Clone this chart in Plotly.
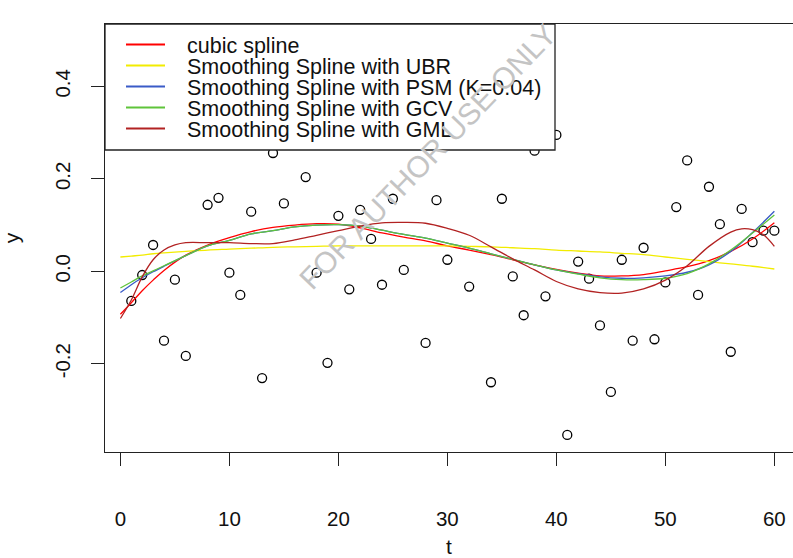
import plotly.graph_objects as go

# Observed data
t_obs = [1, 2, 3, 4, 5, 6, 8, 9, 10, 11, 12, 13, 14, 15, 17, 18, 19, 20,
         21, 22, 23, 24, 25, 26, 28, 29, 30, 32, 34, 35, 36, 37, 38, 39, 40,
         41, 42, 43, 44, 45, 46, 47, 48, 49, 50, 51, 52, 53, 54, 55, 56, 57,
         58, 59, 60]
y_obs = [-0.064, -0.008, 0.057, -0.150, -0.018, -0.183, 0.144, 0.159, -0.003,
         -0.051, 0.129, -0.231, 0.256, 0.147, 0.204, -0.003, -0.198, 0.120,
         -0.039, 0.133, 0.070, -0.029, 0.157, 0.003, -0.155, 0.154, 0.025,
         -0.033, -0.240, 0.157, -0.011, -0.095, 0.261, -0.054, 0.295,
         -0.354, 0.021, -0.016, -0.117, -0.261, 0.025, -0.150, 0.051, -0.147,
         -0.024, 0.139, 0.240, -0.051, 0.183, 0.102, -0.174, 0.135,
         0.063, 0.088, 0.088]

# Fitted curves evaluated on a grid of t
t_fit = [0, 1, 2, 3, 4, 6, 8, 10, 12, 14, 16, 18, 20, 22, 24, 26, 28, 30,
         32, 34, 36, 38, 40, 42, 44, 46, 48, 50, 52, 54, 56, 58, 60]
cubic = [-0.093, -0.068, -0.042, -0.019, 0.002, 0.035, 0.057, 0.073, 0.086,
         0.095, 0.100, 0.103, 0.102, 0.094, 0.083, 0.074, 0.066, 0.055,
         0.046, 0.036, 0.025, 0.014, 0.004, -0.004, -0.010, -0.010, -0.007,
         0.001, 0.010, 0.023, 0.043, 0.070, 0.105]
ubr = [0.031, 0.033, 0.035, 0.038, 0.040, 0.043, 0.046, 0.048, 0.050, 0.052,
       0.053, 0.054, 0.055, 0.055, 0.055, 0.055, 0.055, 0.055, 0.054, 0.053,
       0.051, 0.049, 0.046, 0.044, 0.042, 0.039, 0.036, 0.031, 0.026, 0.021,
       0.016, 0.011, 0.005]
psm = [-0.046, -0.029, -0.014, -0.001, 0.011, 0.034, 0.055, 0.067, 0.081,
       0.088, 0.096, 0.100, 0.101, 0.098, 0.089, 0.080, 0.072, 0.061, 0.050,
       0.038, 0.026, 0.014, 0.003, -0.005, -0.012, -0.015, -0.014, -0.010,
       -0.002, 0.014, 0.043, 0.084, 0.130]
gcv = [-0.036, -0.023, -0.010, 0.001, 0.012, 0.034, 0.055, 0.067, 0.081,
       0.088, 0.096, 0.100, 0.101, 0.098, 0.089, 0.080, 0.072, 0.061, 0.050,
       0.038, 0.026, 0.014, 0.003, -0.006, -0.014, -0.018, -0.018, -0.015,
       -0.005, 0.016, 0.046, 0.083, 0.122]

t_gml = [0, 1, 2, 3, 4, 5, 6, 8, 10, 12, 14, 16, 18, 20, 22, 24, 26, 28, 30,
         32, 34, 36, 38, 40, 42, 44, 46, 48, 50, 52, 54, 56, 57, 58, 59, 60]
gml = [-0.102, -0.062, -0.012, 0.025, 0.046, 0.057, 0.062, 0.062, 0.062,
       0.060, 0.060, 0.068, 0.078, 0.088, 0.098, 0.105, 0.106, 0.104, 0.093,
       0.078, 0.053, 0.027, 0.003, -0.022, -0.038, -0.046, -0.047, -0.038,
       -0.019, 0.012, 0.054, 0.085, 0.092, 0.090, 0.079, 0.054]

legend_labels = ["cubic spline", "Smoothing Spline with UBR",
                 "Smoothing Spline with PSM (K=0.04)",
                 "Smoothing Spline with GCV", "Smoothing Spline with GML"]
colors = ["#FF0000", "#F2EC00", "#3A5BC7", "#5FC43A", "#B22222"]

y_ticks = [-0.2, 0.0, 0.2, 0.4]
y_tick_text = ["-0.2", "0.0", "0.2", "0.4"]
x_ticks = [0, 10, 20, 30, 40, 50, 60]

FONT = "Liberation Sans, Arial, sans-serif"
INK = "#222222"

fig = go.Figure()
fig.add_trace(go.Scatter(
    x=t_obs, y=y_obs, mode="markers", showlegend=False,
    marker=dict(symbol="circle-open", size=9, color="black",
                line=dict(width=1.3, color="black"))))

curves = [(t_fit, cubic), (t_fit, ubr), (t_fit, psm), (t_fit, gcv), (t_gml, gml)]
for (tx, ty), name, col in zip(curves, legend_labels, colors):
    fig.add_trace(go.Scatter(
        x=tx, y=ty, mode="lines", name=name, showlegend=False,
        line=dict(color=col, width=1.3, shape="spline", smoothing=1.0)))

# Legend box drawn in paper coordinates
W, H = 793, 558
ml, mt, mb = 105, 24, 106
pw, ph = W - ml, H - mt - mb


def px_to_paper_x(px):
    return (px - ml) / pw


def py_to_paper_y(py):
    return (H - mb - py) / ph


shapes = [dict(type="rect", xref="paper", yref="paper",
               x0=0, x1=px_to_paper_x(555), y0=py_to_paper_y(150), y1=1,
               fillcolor="white", line=dict(color=INK, width=1.3),
               layer="above")]
annotations = []
row_y = [44.5, 65.5, 86.5, 107.5, 128.5]
for ry, name, col in zip(row_y, legend_labels, colors):
    shapes.append(dict(type="line", xref="paper", yref="paper",
                       x0=px_to_paper_x(126), x1=px_to_paper_x(165),
                       y0=py_to_paper_y(ry), y1=py_to_paper_y(ry),
                       line=dict(color=col, width=2.2), layer="above"))
    annotations.append(dict(xref="paper", yref="paper",
                            x=px_to_paper_x(185), y=py_to_paper_y(ry + 1.5),
                            xanchor="left", yanchor="middle", showarrow=False,
                            text=name, font=dict(family=FONT, size=21.5,
                                                 color="#111111")))

annotations.append(dict(xref="paper", yref="paper",
                        x=px_to_paper_x(428), y=py_to_paper_y(157),
                        xanchor="center", yanchor="middle", showarrow=False,
                        text="FOR AUTHOR USE ONLY", textangle=-46,
                        font=dict(family=FONT, size=30, color="#C4C4C4")))

fig.update_layout(
    width=W, height=H,
    margin=dict(l=ml, r=0, t=mt, b=mb, pad=0),
    paper_bgcolor="white", plot_bgcolor="white",
    font=dict(family=FONT, size=20, color="#111111"),
    shapes=shapes, annotations=annotations,
    showlegend=False,
)
fig.update_xaxes(
    range=[-1.413, 61.71], tickvals=x_ticks, ticks="outside", ticklen=13,
    tickwidth=1.3, tickcolor=INK, showline=True, linecolor=INK, linewidth=1.3,
    mirror=True, showgrid=False, zeroline=False, ticklabelstandoff=35,
    tickfont=dict(size=20.5),
    title=dict(text="t", font=dict(size=21), standoff=14))
fig.update_yaxes(
    range=[-0.3909, 0.5351], tickvals=y_ticks, ticktext=y_tick_text,
    ticks="outside", ticklen=13, tickwidth=1.3, tickcolor=INK, showline=True,
    linecolor=INK, linewidth=1.3, mirror=False, showgrid=False,
    zeroline=False, tickangle=-90, ticklabelstandoff=13,
    tickfont=dict(size=20.5),
    title=dict(text="y", font=dict(size=21), standoff=27))

fig.write_html("out.html")
